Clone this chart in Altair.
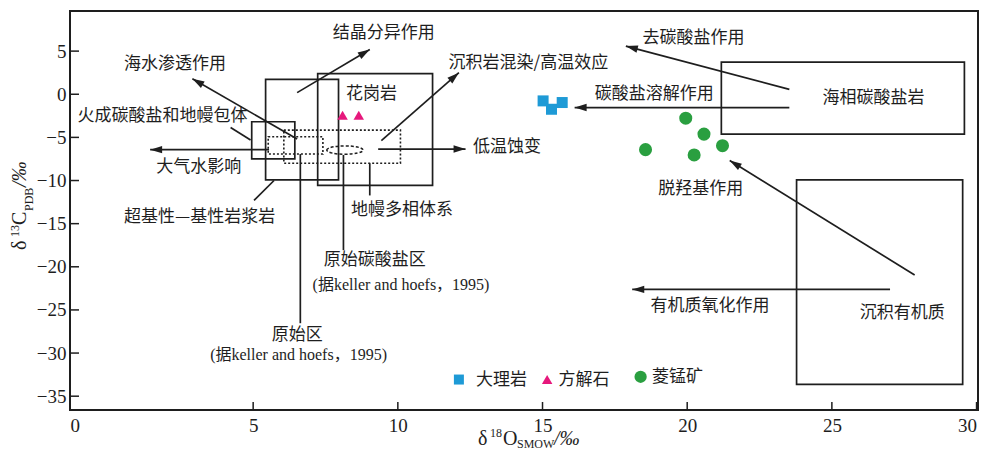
import math
import altair as alt
import pandas as pd

# ---------------- data ----------------
marble_x = [15.02, 15.31, 15.68]
marble_y = [-0.77, -1.74, -0.96]
calcite_x = [8.09, 8.65]
calcite_y = [-2.43, -2.43]
rhodo_x = [19.95, 20.58, 21.22, 18.56, 20.24]
rhodo_y = [-2.77, -4.62, -5.96, -6.42, -7.04]

x_ticks = [5, 10, 15, 20, 25, 30]
y_ticks = [5, 0, -5, -10, -15, -20, -25, -30, -35]

# solid field boxes
box_x1 = [5.43, 7.23, 4.95, 21.18, 23.78]
box_x2 = [7.95, 11.20, 6.44, 29.58, 29.52]
box_y1 = [1.72, 2.38, -3.19, 3.73, -9.93]
box_y2 = [-9.93, -10.57, -7.50, -4.62, -33.64]

# dotted boxes (原始区, 地幔多相体系)
dbox_x1 = [5.52, 6.06]
dbox_x2 = [7.41, 10.09]
dbox_y1 = [-4.92, -4.16]
dbox_y2 = [-6.93, -8.00]

# dashed ellipse (原始碳酸盐区)
ell_x = [8.17]
ell_y = [-6.47]

# arrows (from -> to, arrow head at "to")
arr_fx = [6.52, 6.52, 9.43, 9.32, 5.55, 23.53, 23.53, 27.86, 27.01]
arr_fy = [-5.20, 0.19, -5.38, -6.35, -6.42, 0.57, -1.54, -20.95, -22.62]
arr_tx = [2.90, 9.03, 12.11, 12.34, 1.44, 17.88, 16.11, 21.47, 18.10]
arr_ty = [1.80, 5.18, 2.50, -6.35, -6.42, 5.58, -1.54, -7.69, -22.62]

# leader lines without heads
lead_x1 = [4.22, 5.72, 6.63, 8.12, 9.03]
lead_y1 = [-3.85, -10.00, -6.93, -7.04, -8.00]
lead_x2 = [4.91, 5.03, 6.63, 8.12, 9.03]
lead_y2 = [-5.31, -12.30, -26.54, -18.07, -11.73]

# Chinese labels
cn_text = ["海水渗透作用", "结晶分异作用", "沉积岩混染/高温效应", "花岗岩", "低温蚀变",
           "火成碳酸盐和地幔包体", "大气水影响", "超基性—基性岩浆岩", "地幔多相体系",
           "原始碳酸盐区", "原始区", "去碳酸盐作用", "碳酸盐溶解作用", "海相碳酸盐岩",
           "脱羟基作用", "有机质氧化作用", "沉积有机质"]
cn_x = [2.30, 9.51, 14.51, 9.09, 13.77, 1.87, 3.12, 3.15, 10.14,
        9.20, 6.52, 20.22, 18.86, 26.44, 20.47, 20.79, 27.43]
cn_y = [3.46, 7.11, 3.65, 0.00, -6.15, -2.50, -8.46, -14.23, -13.46,
        -19.22, -27.88, 6.53, 0.00, -0.39, -10.96, -24.53, -25.38]

ref_text = ["(据keller and hoefs，1995)", "(据keller and hoefs，1995)"]
ref_x = [10.11, 6.57]
ref_y = [-22.11, -30.18]

# legend
leg_names = ["大理岩", "方解石", "菱锰矿"]
leg_mx = [12.11, 15.16, 18.39]
leg_my = [-33.07, -33.07, -32.75]
leg_tx = [12.70, 15.55, 18.78]

# ---------------- geometry / style ----------------
W, H = 908, 399
X_DOM = [-1.33, 30.05]
Y_DOM = [-36.6, 9.65]
SERIF = "Liberation Serif, Noto Sans CJK SC"
CN = "Noto Sans CJK SC"
INK = "#1e1e1e"

xscale = alt.Scale(domain=X_DOM, nice=False, zero=False)
yscale = alt.Scale(domain=Y_DOM, nice=False, zero=False)

x_axis = alt.Axis(values=[X_DOM[0]] + x_ticks, labelExpr="datum.value < 0 ? '0' : datum.label",
                  title=None, grid=False, domain=False, ticks=False, tickSize=0,
                  labelFont=SERIF, labelFontSize=19, labelColor=INK, labelPadding=6,
                  labelFlush=6, labelOverlap=False)
y_axis = alt.Axis(values=y_ticks, title=None, grid=False, domain=False, ticks=False, tickSize=0,
                  labelFont=SERIF, labelFontSize=19, labelColor=INK, labelPadding=4,
                  labelFlush=False, labelOverlap=False)


def X(f="x"):
    return alt.X(f + ":Q", scale=xscale, axis=x_axis)


def Y(f="y"):
    return alt.Y(f + ":Q", scale=yscale, axis=y_axis)


sx = W / (X_DOM[1] - X_DOM[0])
sy = H / (Y_DOM[1] - Y_DOM[0])

boxes = pd.DataFrame({"x": box_x1, "x2": box_x2, "y": box_y1, "y2": box_y2})
dboxes = pd.DataFrame({"x": dbox_x1, "x2": dbox_x2, "y": dbox_y1, "y2": dbox_y2})
arrows = pd.DataFrame({"x": arr_fx, "y": arr_fy, "x2": arr_tx, "y2": arr_ty})
arrows["angle"] = [
    math.degrees(math.atan2((tx - fx) * sx, (ty - fy) * sy)) % 360
    for fx, fy, tx, ty in zip(arr_fx, arr_fy, arr_tx, arr_ty)
]
leads = pd.DataFrame({"x": lead_x1, "y": lead_y1, "x2": lead_x2, "y2": lead_y2})

layers = []

# tick marks pointing inwards
layers.append(alt.Chart(pd.DataFrame({"x": x_ticks})).mark_rule(color=INK, strokeWidth=1.5).encode(
    x=X(), y=alt.value(H), y2=alt.value(H - 8)))
layers.append(alt.Chart(pd.DataFrame({"y": y_ticks})).mark_rule(color=INK, strokeWidth=1.5).encode(
    y=Y(), x=alt.value(0), x2=alt.value(9)))

layers.append(alt.Chart(boxes).mark_rect(fill=None, fillOpacity=0, stroke=INK, strokeWidth=1.7).encode(
    x=X(), x2="x2", y=Y(), y2="y2"))
layers.append(alt.Chart(dboxes).mark_rect(fill=None, fillOpacity=0, stroke=INK, strokeWidth=1.6,
                                          strokeDash=[2, 2]).encode(x=X(), x2="x2", y=Y(), y2="y2"))
layers.append(alt.Chart(pd.DataFrame({"x": ell_x, "y": ell_y})).mark_point(
    shape="M-1,0A1,0.23,0,1,1,1,0A1,0.23,0,1,1,-1,0Z", size=1320, filled=False, stroke=INK,
    strokeWidth=1.5, strokeDash=[3, 2], opacity=1).encode(x=X(), y=Y()))

layers.append(alt.Chart(arrows).mark_rule(color=INK, strokeWidth=1.7).encode(
    x=X(), y=Y(), x2="x2", y2="y2"))
layers.append(alt.Chart(arrows).mark_point(
    shape="M0,0L0.62,2L-0.62,2Z", size=144, filled=True, color=INK, opacity=1).encode(
    x=X("x2"), y=Y("y2"), angle=alt.Angle("angle:Q", scale=None)))
layers.append(alt.Chart(leads).mark_rule(color=INK, strokeWidth=1.7).encode(
    x=X(), y=Y(), x2="x2", y2="y2"))

# samples
layers.append(alt.Chart(pd.DataFrame({"x": marble_x, "y": marble_y})).mark_point(
    shape="square", size=121, filled=True, color="#1e9ad6", opacity=1).encode(x=X(), y=Y()))
layers.append(alt.Chart(pd.DataFrame({"x": calcite_x, "y": calcite_y})).mark_point(
    shape="triangle-up", size=110, filled=True, color="#e6187c", opacity=1).encode(x=X(), y=Y()))
layers.append(alt.Chart(pd.DataFrame({"x": rhodo_x, "y": rhodo_y})).mark_point(
    shape="circle", size=170, filled=True, color="#2a9f40", opacity=1).encode(x=X(), y=Y()))

# texts
layers.append(alt.Chart(pd.DataFrame({"x": cn_x, "y": cn_y, "t": cn_text})).mark_text(
    font=CN, fontSize=17, color=INK, align="center", baseline="middle").encode(x=X(), y=Y(), text="t:N"))
layers.append(alt.Chart(pd.DataFrame({"x": ref_x, "y": ref_y, "t": ref_text})).mark_text(
    font=SERIF, fontSize=16, color=INK, align="center", baseline="middle").encode(x=X(), y=Y(), text="t:N"))

# legend
leg_shapes = ["square", "triangle-up", "circle"]
leg_colors = ["#1e9ad6", "#e6187c", "#2a9f40"]
leg_sizes = [100, 110, 150]
for i in range(3):
    layers.append(alt.Chart(pd.DataFrame({"x": [leg_mx[i]], "y": [leg_my[i]]})).mark_point(
        shape=leg_shapes[i], size=leg_sizes[i], filled=True, color=leg_colors[i], opacity=1).encode(
        x=X(), y=Y()))
layers.append(alt.Chart(pd.DataFrame({"x": leg_tx, "y": leg_my, "t": leg_names})).mark_text(
    font=CN, fontSize=17, color=INK, align="left", baseline="middle").encode(x=X(), y=Y(), text="t:N"))

# axis titles composed from pieces (super/subscripts)
def piece(txt, px, py, size, angle=0, italic=False):
    return alt.Chart(pd.DataFrame({"t": [txt]})).mark_text(
        font="Liberation Serif", fontSize=size, color=INK, align="left", baseline="alphabetic",
        angle=angle, fontStyle="italic" if italic else "normal").encode(
        x=alt.value(px), y=alt.value(py), text="t:N")

layers += [
    piece("δ", 408, 434, 20), piece("18", 420, 426, 12), piece("O", 433, 434, 20),
    piece("SMOW", 447, 437, 12), piece("/‰", 484, 434, 20, italic=True),
    piece("δ", -44, 239, 20, 270), piece("13", -51, 226, 12, 270), piece("C", -44, 214, 20, 270),
    piece("PDB", -37, 200, 12, 270), piece("/‰", -44, 176, 20, 270, italic=True),
]

chart = alt.layer(*layers).properties(
    width=W, height=H,
    autosize=alt.AutoSizeParams(type="none"),
    padding={"left": 62, "top": 3, "right": 3, "bottom": 43},
    background="white",
).configure_view(stroke=INK, strokeWidth=2)

chart.save("out.html", embed_options={"renderer": "svg", "actions": False})
